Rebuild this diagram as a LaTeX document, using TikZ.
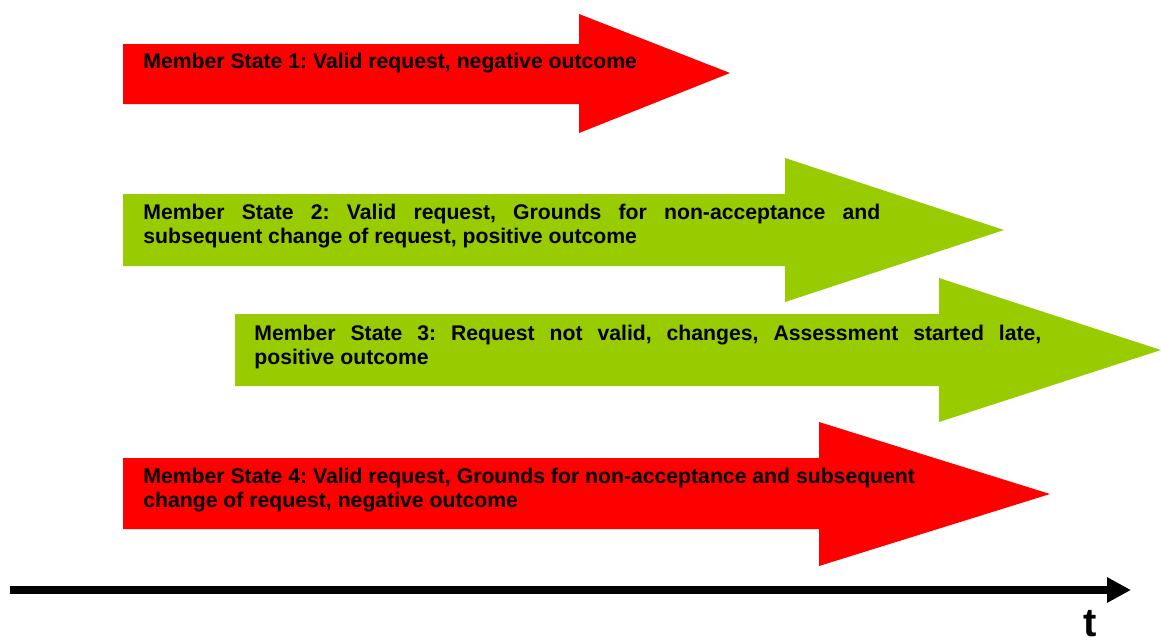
\documentclass[tikz,border=0pt]{standalone}
\usepackage{fontspec}
\setmainfont{Liberation Sans}
\usepackage{tikz}
\usetikzlibrary{positioning, arrows.meta}

\definecolor{state_red}{HTML}{FF0000}
\definecolor{state_green}{HTML}{99CC00}
\frenchspacing

\begin{document}
\begin{tikzpicture}
    [
        x=0.5pt, y=-0.5pt,
        red_arrow/.style={fill=state_red, draw=none},
        green_arrow/.style={fill=state_green, draw=none},
        state_text/.style={anchor=base west, inner sep=0pt, align=left, font=\fontsize{10.6}{12}\selectfont\bfseries},
        time_axis/.style={line width=4pt, -{Triangle[length=12pt, width=12pt]}},
    ]
        \useasboundingbox (0,0) rectangle (1161,643) ;
        % the four member states
        \fill[red_arrow] (123,44) -- (579,44) -- (579,14) -- (730,73) -- (579,133) -- (579,104) -- (123,104) -- cycle ;
        \fill[green_arrow] (123,194) -- (785,194) -- (785,158) -- (1004,230) -- (785,302) -- (785,266) -- (123,266) -- cycle ;
        \fill[green_arrow] (235,314) -- (939,314) -- (939,278) -- (1161,350) -- (939,422) -- (939,386) -- (235,386) -- cycle ;
        \fill[red_arrow] (123,458) -- (819,458) -- (819,422) -- (1050,494) -- (819,566) -- (819,529) -- (123,529) -- cycle ;
        % base anchor sits on the last line
        \node[state_text] (ms1) at (143,68) {Member State 1: Valid request, negative outcome} ;
        \node[state_text] (ms2) at (143,243) {\makebox[368.5pt][s]{Member State 2: Valid request, Grounds for non-acceptance and}\\subsequent change of request, positive outcome} ;
        \node[state_text] (ms3) at (254,364) {\makebox[393.5pt][s]{Member State 3: Request not valid, changes, Assessment started late,}\\positive outcome} ;
        \node[state_text] (ms4) at (143,507) {Member State 4: Valid request, Grounds for non-acceptance and subsequent\\change of request, negative outcome} ;
        % time axis
        \coordinate (t_start) at (10,590) ;
        \coordinate (t_end) at (1131,590) ;
        \draw[time_axis] (t_start) -- (t_end) ;
        \node[anchor=base, inner sep=0pt, font=\fontsize{20}{24}\selectfont\bfseries] (t_label) at (1090,636) {t} ;
    \end{tikzpicture}
\end{document}
